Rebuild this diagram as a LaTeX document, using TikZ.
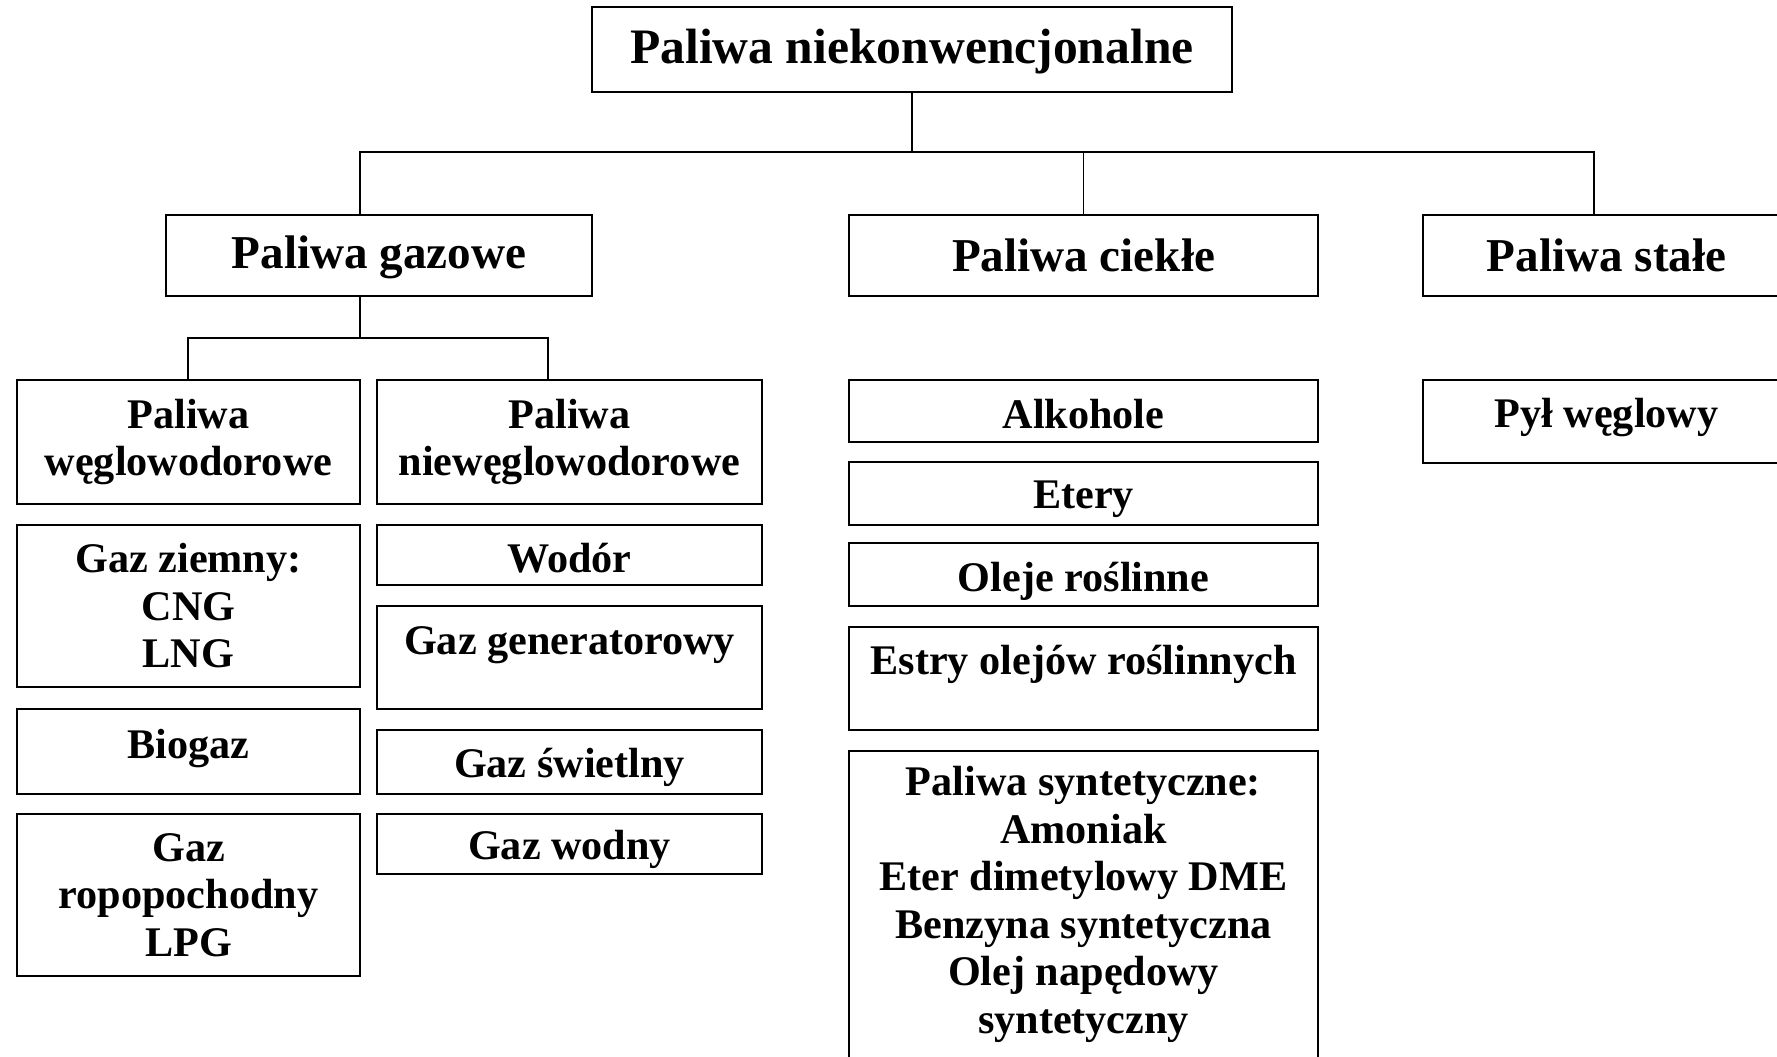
\documentclass[tikz,border=0pt]{standalone}
\usepackage{fontspec}
\setmainfont{Liberation Serif}
\newcommand{\lift}[2]{\raisebox{#1}[\height][\depth]{#2}}
\tikzset{
  box/.style={draw, line width=0.8pt, inner sep=0pt, align=center, font=\bfseries\fontsize{12}{13.5}\selectfont},
  head/.style={box, font=\bfseries\fontsize{13.4}{15}\selectfont},
  dims/.style 2 args={minimum width=#1*0.01cm, minimum height=#2*0.01cm},
  link/.style={line width=0.5pt}
}
\begin{document}
\begin{tikzpicture}[x=0.01cm, y=-0.01cm]
  \useasboundingbox (0,0) rectangle (1777,1056);

  % Top level
  \node[box, dims={640}{85}, font=\bfseries\fontsize{14.1}{16}\selectfont] (top) at (912,49.5) {\lift{-0.02cm}{Paliwa niekonwencjonalne}};

  % Second level
  \node[head, dims={426}{81}] (gaz) at (379,255.5) {\lift{-0.02cm}{Paliwa gazowe}};
  \node[head, dims={469}{81}] (ciekle) at (1083.5,255.5) {Paliwa ciekłe};
  \node[head, dims={367}{81}] (stale) at (1606.5,255.5) {Paliwa stałe};

  % Gas fuels
  \node[box, dims={343}{124}] (wegl) at (188.5,442) {Paliwa\\węglowodorowe};
  \node[box, dims={385}{124}] (niewegl) at (569.5,442) {Paliwa\\niewęglowodorowe};

  \node[box, dims={343}{162}] (ziemny) at (188.5,606) {Gaz ziemny:\\CNG\\LNG};
  \node[box, dims={343}{85}] (biogaz) at (188.5,751.5) {\lift{0.03cm}{Biogaz}};
  \node[box, dims={343}{162}] (ropo) at (188.5,895) {Gaz\\ropopochodny\\LPG};

  \node[box, dims={385}{60}] (wodor) at (569.5,555) {\lift{-0.03cm}{Wodór}};
  \node[box, dims={385}{103}] (generator) at (569.5,657.5) {\lift{0.12cm}{Gaz generatorowy}};
  \node[box, dims={385}{64}] (swietlny) at (569.5,762) {\lift{-0.05cm}{Gaz świetlny}};
  \node[box, dims={385}{60}] (wodny) at (569.5,844) {\lift{-0.05cm}{Gaz wodny}};

  % Liquid fuels
  \node[box, dims={469}{62}] (alkohole) at (1083.5,411) {\lift{-0.035cm}{Alkohole}};
  \node[box, dims={469}{63}] (etery) at (1083.5,493.5) {\lift{-0.06cm}{Etery}};
  \node[box, dims={469}{63}] (oleje) at (1083.5,574.5) {\lift{-0.07cm}{Oleje roślinne}};
  \node[box, dims={469}{103}] (estry) at (1083.5,678.5) {\lift{0.14cm}{Estry olejów roślinnych}};
  \node[box, dims={469}{318}, text depth=0.2cm] (synt) at (1083.5,910) {Paliwa syntetyczne:\\Amoniak\\Eter dimetylowy DME\\Benzyna syntetyczna\\Olej napędowy\\syntetyczny};

  % Solid fuels
  \node[box, dims={367}{83}] (pyl) at (1606.5,421.5) {\lift{0.045cm}{Pył węglowy}};

  % Connectors
  \coordinate (bus) at (912,152);
  \coordinate (gdrop) at (360,152);
  \coordinate (sdrop) at (1594,152);
  \coordinate (sub) at (360,338);
  \coordinate (wdrop) at (188,338);
  \coordinate (ndrop) at (548,338);

  \draw[link] (top.south) -- (bus);
  \draw[link] (gaz.north -| gdrop) -- (gdrop) -- (sdrop) -- (stale.north -| sdrop);
  \draw[link] (bus -| ciekle.north) -- (ciekle.north);
  \draw[link] (gaz.south -| sub) -- (sub);
  \draw[link] (wegl.north -| wdrop) -- (wdrop) -- (ndrop) -- (niewegl.north -| ndrop);
\end{tikzpicture}
\end{document}
